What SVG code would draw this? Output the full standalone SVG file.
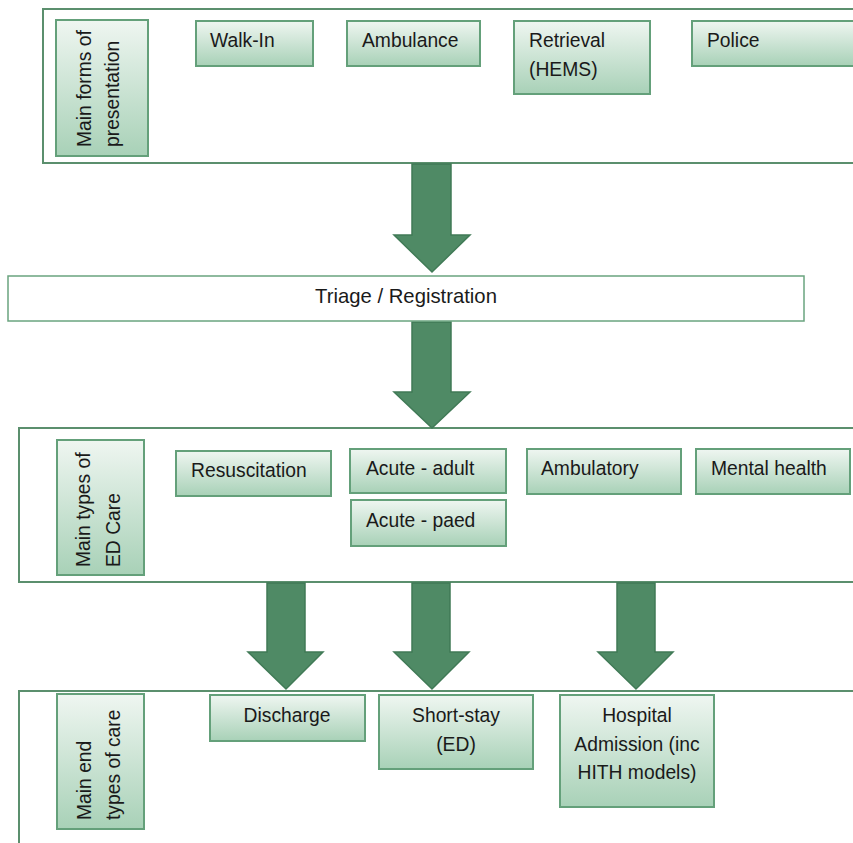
<svg xmlns="http://www.w3.org/2000/svg" width="853" height="843" viewBox="0 0 853 843">
<defs>
<linearGradient id="g" x1="0" y1="0" x2="0" y2="1">
<stop offset="0" stop-color="#eff6f1"/>
<stop offset="1" stop-color="#a8d1b7"/>
</linearGradient>
<style>
.panel{fill:#fff;stroke:#5b8f6d;stroke-width:2}
.node{fill:url(#g);stroke:#64a07a;stroke-width:2}
.t{font-family:"Liberation Sans",Arial,sans-serif;font-size:19.3px;fill:#1a1a1a}
.c{text-anchor:middle}
.arrow{fill:#4f8a65;stroke:#407a56;stroke-width:1.5}
</style>
</defs>
<rect width="853" height="843" fill="#fff"/>

<g id="panel-presentation">
<rect class="panel" x="43" y="9" width="830" height="154"/>
</g>
<g id="panel-edcare">
<rect class="panel" x="19" y="428" width="854" height="154"/>
</g>
<g id="panel-end">
<rect class="panel" x="19" y="691" width="854" height="170"/>
</g>

<g id="connectors">
<polygon class="arrow" points="412,164 451,164 451,235 470,235 432,272 394,235 412,235"/>
<polygon class="arrow" points="412,322 451,322 451,392 470,392 432,428 394,392 412,392"/>
<polygon class="arrow" points="267,583 305,583 305,652 323,652 286,689 248,652 267,652"/>
<polygon class="arrow" points="412,583 450,583 450,652 469,652 432,689 394,652 412,652"/>
<polygon class="arrow" points="617,583 655,583 655,652 673,652 636,689 598,652 617,652"/>
</g>

<g id="label-presentation">
<rect class="node" x="56" y="20" width="92" height="136"/>
<text class="t" transform="translate(91,147) rotate(-90)">Main forms of</text>
<text class="t" transform="translate(119,147) rotate(-90)">presentation</text>
</g>
<g id="walk-in">
<rect class="node" x="196" y="21" width="117" height="45"/>
<text class="t" x="210" y="47">Walk-In</text>
</g>
<g id="ambulance">
<rect class="node" x="347" y="21" width="133" height="45"/>
<text class="t" x="362" y="47">Ambulance</text>
</g>
<g id="retrieval">
<rect class="node" x="514" y="21" width="136" height="73"/>
<text class="t" x="529" y="47">Retrieval</text>
<text class="t" x="529" y="76">(HEMS)</text>
</g>
<g id="police">
<rect class="node" x="692" y="21" width="180" height="45"/>
<text class="t" x="707" y="47">Police</text>
</g>

<g id="triage">
<rect x="8" y="276" width="796" height="45" fill="#fff" stroke="#6aa47f" stroke-width="1.5"/>
<text class="t c" x="406" y="303" style="font-size:20.3px">Triage / Registration</text>
</g>

<g id="label-edcare">
<rect class="node" x="57" y="440" width="87" height="135"/>
<text class="t" transform="translate(90,567) rotate(-90)">Main types of</text>
<text class="t" transform="translate(120,567) rotate(-90)">ED Care</text>
</g>
<g id="resuscitation">
<rect class="node" x="176" y="451" width="155" height="45"/>
<text class="t" x="191" y="477">Resuscitation</text>
</g>
<g id="acute-adult">
<rect class="node" x="350" y="449" width="156" height="44"/>
<text class="t" x="366" y="475">Acute - adult</text>
</g>
<g id="acute-paed">
<rect class="node" x="351" y="500" width="155" height="46"/>
<text class="t" x="366" y="527">Acute - paed</text>
</g>
<g id="ambulatory">
<rect class="node" x="527" y="449" width="154" height="45"/>
<text class="t" x="541" y="475">Ambulatory</text>
</g>
<g id="mental-health">
<rect class="node" x="696" y="449" width="154" height="45"/>
<text class="t" x="711" y="475">Mental health</text>
</g>

<g id="label-end">
<rect class="node" x="57" y="694" width="87" height="135"/>
<text class="t" transform="translate(91,820) rotate(-90)">Main end</text>
<text class="t" transform="translate(120,820) rotate(-90)">types of care</text>
</g>
<g id="discharge">
<rect class="node" x="210" y="695" width="155" height="46"/>
<text class="t c" x="287" y="722">Discharge</text>
</g>
<g id="short-stay">
<rect class="node" x="379" y="695" width="154" height="74"/>
<text class="t c" x="456" y="722">Short-stay</text>
<text class="t c" x="456" y="751">(ED)</text>
</g>
<g id="hospital">
<rect class="node" x="560" y="695" width="154" height="112"/>
<text class="t c" x="637" y="722">Hospital</text>
<text class="t c" x="637" y="751">Admission (inc</text>
<text class="t c" x="637" y="779">HITH models)</text>
</g>
</svg>
